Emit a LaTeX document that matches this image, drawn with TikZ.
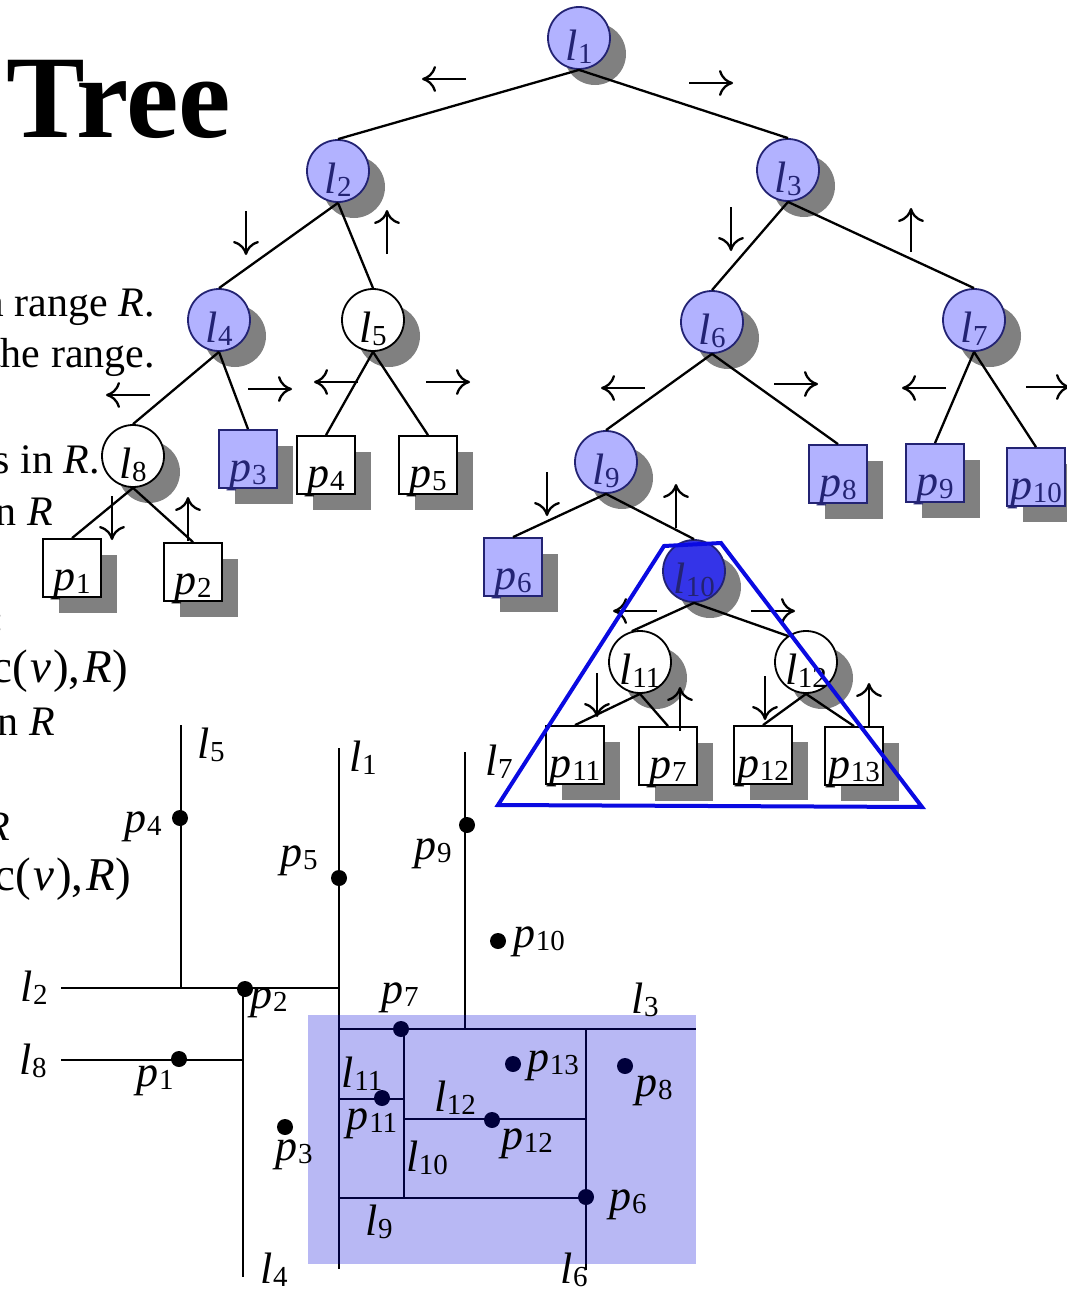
\RequirePackage{fix-cm}
\documentclass[tikz,border=0pt]{standalone}
\usepackage{fontspec}
\setmainfont{Liberation Serif}
\usetikzlibrary{shadows,calc,arrows.meta}
\definecolor{hlfill}{RGB}{178,178,255}
\definecolor{navy}{RGB}{35,35,115}
\definecolor{hldark}{RGB}{52,52,232}
\definecolor{shadowgray}{RGB}{128,128,128}
\definecolor{trapblue}{RGB}{10,10,225}
\definecolor{regionblue}{RGB}{0,0,215}
\newcommand{\lab}[2]{\textit{#1}\kern0.5pt\raisebox{-3pt}{\fontsize{29}{29}\selectfont #2}}
\tikzset{
  every node/.style={font=\fontsize{44}{44}\selectfont},
  shadowed/.style={drop shadow={shadow xshift=16pt,shadow yshift=-16pt,opacity=1,fill=shadowgray}},
  treecirc/.style={circle,draw=black,line width=1.8pt,fill=white,minimum size=62pt,inner sep=0pt,text height=44pt,text depth=0pt,shadowed},
  leafbox/.style={rectangle,draw=black,line width=1.8pt,fill=white,minimum size=58pt,inner sep=0pt,text height=44pt,text depth=0pt,shadowed},
  hl/.style={fill=hlfill,draw=navy,text=navy},
  hldeep/.style={fill=hldark,draw=navy,text=navy},
  edge/.style={line width=2.3pt},
  cut/.style={line width=2.5pt},
  dot/.style={circle,fill=black,minimum size=16pt,inner sep=0pt},
  dirarrow/.style={line width=2.3pt,-{Computer Modern Rightarrow[length=14pt,width=26pt,line width=2.3pt]}},
  larr/.pic={\draw[dirarrow] (22,0) -- (-22,0);},
  rarr/.pic={\draw[dirarrow] (-22,0) -- (22,0);},
  uarr/.pic={\draw[dirarrow] (0,22) -- (0,-22);},
  darr/.pic={\draw[dirarrow] (0,-22) -- (0,22);},
  body/.style={anchor=base east,inner sep=0pt,font=\fontsize{42}{42}\selectfont},
  bodywide/.style={anchor=base east,inner sep=0pt,font=\fontsize{47}{47}\selectfont},
  lbl/.style={inner sep=0pt},
}
\begin{document}
\begin{tikzpicture}[x=1pt,y=-1pt]
\useasboundingbox (0,0) rectangle (1067,1290);
\clip (0,0) rectangle (1067,1290);
% title and cut-off body text
\node[anchor=base west,inner sep=0pt,font=\fontsize{118}{118}\selectfont\bfseries] (title) at (6,137) {Tree};
\node[body] (t1) at (155,316) {a range \textit{R}.};
\node[body] (t2) at (155,367) {the range.};
\node[body] (t3) at (100,473) {ts in \textit{R}.};
\node[body] (t4) at (53,525) {in \textit{R}};
\node[body,font=\fontsize{42}{42}\selectfont\bfseries] (t5) at (5,632) {:};
\node[bodywide] (t6) at (128,682) {c(\kern2pt\textit{v}\kern2pt),\kern3pt\textit{R})};
\node[body] (t7) at (55,735) {in \textit{R}};
\node[body] (t8) at (10,840) {\textit{R}};
\node[bodywide] (t9) at (131,890) {c(\kern2pt\textit{v}\kern2pt),\kern3pt\textit{R})};
% tree nodes
\node[treecirc,hl] (n1) at (579,38) {\lab{l}{1}};
\node[treecirc,hl] (n2) at (338,171) {\lab{l}{2}};
\node[treecirc,hl] (n3) at (788,170) {\lab{l}{3}};
\node[treecirc,hl] (n4) at (219,320) {\lab{l}{4}};
\node[treecirc] (n5) at (373,320) {\lab{l}{5}};
\node[treecirc,hl] (n6) at (712,322) {\lab{l}{6}};
\node[treecirc,hl] (n7) at (974,320) {\lab{l}{7}};
\node[treecirc] (n8) at (133,456) {\lab{l}{8}};
\node[treecirc,hl] (n9) at (606,462) {\lab{l}{9}};
\node[treecirc,hldeep] (n10) at (694,571) {\lab{l}{10}};
\node[treecirc] (n11) at (640,662) {\lab{l}{11}};
\node[treecirc] (n12) at (806,662) {\lab{l}{12}};
\node[leafbox] (q1) at (72,568) {\lab{p}{1}};
\node[leafbox] (q2) at (193,572) {\lab{p}{2}};
\node[leafbox,hl] (q3) at (248,459) {\lab{p}{3}};
\node[leafbox] (q4) at (326,465) {\lab{p}{4}};
\node[leafbox] (q5) at (428,465) {\lab{p}{5}};
\node[leafbox,hl] (q6) at (513,567) {\lab{p}{6}};
\node[leafbox,hl] (q8) at (838,474) {\lab{p}{8}};
\node[leafbox,hl] (q9) at (935,473) {\lab{p}{9}};
\node[leafbox,hl] (q10) at (1036,477) {\lab{p}{10}};
\node[leafbox] (q11) at (575,755) {\lab{p}{11}};
\node[leafbox] (q7) at (668,756) {\lab{p}{7}};
\node[leafbox] (q12) at (763,755) {\lab{p}{12}};
\node[leafbox] (q13) at (854,756) {\lab{p}{13}};
% tree edges
\draw[edge] (n1.south) -- (n2.north);
\draw[edge] (n1.south) -- (n3.north);
\draw[edge] (n2.south) -- (n4.north);
\draw[edge] (n2.south) -- (n5.north);
\draw[edge] (n3.south) -- (n6.north);
\draw[edge] (n3.south) -- (n7.north);
\draw[edge] (n4.south) -- (n8.north);
\draw[edge] (n4.south) -- (q3.north);
\draw[edge] (n5.south) -- (q4.north);
\draw[edge] (n5.south) -- (q5.north);
\draw[edge] (n6.south) -- (n9.north);
\draw[edge] (n6.south) -- (q8.north);
\draw[edge] (n7.south) -- (q9.north);
\draw[edge] (n7.south) -- (q10.north);
\draw[edge] (n8.south) -- (q1.north);
\draw[edge] (n8.south) -- (q2.north);
\draw[edge] (n9.south) -- (q6.north);
\draw[edge] (n9.south) -- (n10.north);
\draw[edge] (n10.south) -- (n11.105);
\draw[edge] (n10.south) -- (n12.125);
\draw[edge] (n11.south) -- (q11.north);
\draw[edge] (n11.south) -- (q7.north);
\draw[edge] (n12.south) -- (q12.north);
\draw[edge] (n12.south) -- (q13.north);
% direction arrows
\pic (a1) at (444,79) {larr};
\pic (a2) at (711,83) {rarr};
\pic (a3) at (246,233) {darr};
\pic (a4) at (387,232) {uarr};
\pic (a5) at (731,229) {darr};
\pic (a6) at (911,230) {uarr};
\pic (a7) at (128,395) {larr};
\pic (a8) at (270,389) {rarr};
\pic (a9) at (336,382) {larr};
\pic (a10) at (448,382) {rarr};
\pic (a11) at (112,518) {darr};
\pic (a12) at (188,519) {uarr};
\pic (a13) at (623,388) {larr};
\pic (a14) at (796,384) {rarr};
\pic (a15) at (924,388) {larr};
\pic (a16) at (1048,387) {rarr};
\pic (a17) at (547,494) {darr};
\pic (a18) at (676,506) {uarr};
\pic (a19) at (635,611) {larr};
\pic (a20) at (773,611) {rarr};
\pic (a21) at (597,695) {darr};
\pic (a22) at (680,709) {uarr};
\pic (a23) at (765,698) {darr};
\pic (a24) at (869,705) {uarr};
% partition lines
\draw[cut] (181,725) -- (181,988);
\draw[cut] (339,748) -- (339,1269);
\draw[cut] (465,752) -- (465,1029);
\draw[cut] (61,988) -- (339,988);
\draw[cut] (243,988) -- (243,1277);
\draw[cut] (61,1060) -- (243,1060);
\draw[cut] (339,1029) -- (696,1029);
\draw[cut] (404,1029) -- (404,1198);
\draw[cut] (339,1099) -- (404,1099);
\draw[cut] (404,1119) -- (586,1119);
\draw[cut] (586,1029) -- (586,1270);
\draw[cut] (339,1198) -- (586,1198);
% points
\node[dot] (d4) at (180,818) {};
\node[dot] (d5) at (339,878) {};
\node[dot] (d9) at (467,825) {};
\node[dot] (d10) at (498,941) {};
\node[dot] (d2) at (245,989) {};
\node[dot] (d1) at (179,1059) {};
\node[dot] (d3) at (285,1127) {};
\node[dot] (d7) at (401,1029) {};
\node[dot] (d11) at (382,1098) {};
\node[dot] (d12) at (492,1120) {};
\node[dot] (d13) at (513,1064) {};
\node[dot] (d8) at (625,1066) {};
\node[dot] (d6) at (586,1197) {};
% query region
\coordinate (r1) at (308,1015);
\coordinate (r2) at (696,1264);
\fill[regionblue,opacity=0.28] (r1) rectangle (r2);
% partition labels
\node[lbl] (Ll5) at (211,745) {\lab{l}{5}};
\node[lbl] (Ll1) at (363,758) {\lab{l}{1}};
\node[lbl] (Ll7) at (499,762) {\lab{l}{7}};
\node[lbl] (Lp4) at (143,827) {\lab{p}{4}};
\node[lbl] (Lp5) at (299,861) {\lab{p}{5}};
\node[lbl] (Lp9) at (433,854) {\lab{p}{9}};
\node[lbl] (Lp10) at (539,942) {\lab{p}{10}};
\node[lbl] (Ll2) at (34,988) {\lab{l}{2}};
\node[lbl] (Lp2) at (269,1003) {\lab{p}{2}};
\node[lbl] (Ll8) at (33,1061) {\lab{l}{8}};
\node[lbl] (Lp1) at (155,1081) {\lab{p}{1}};
\node[lbl] (Lp7) at (400,998) {\lab{p}{7}};
\node[lbl] (Ll3) at (645,1000) {\lab{l}{3}};
\node[lbl] (Ll11) at (362,1074) {\lab{l}{11}};
\node[lbl] (Lp11) at (372,1124) {\lab{p}{11}};
\node[lbl] (Ll12) at (455,1098) {\lab{l}{12}};
\node[lbl] (Lp12) at (527,1144) {\lab{p}{12}};
\node[lbl] (Ll10) at (427,1158) {\lab{l}{10}};
\node[lbl] (Lp13) at (553,1066) {\lab{p}{13}};
\node[lbl] (Lp8) at (654,1091) {\lab{p}{8}};
\node[lbl] (Ll9) at (379,1222) {\lab{l}{9}};
\node[lbl] (Lp6) at (628,1205) {\lab{p}{6}};
\node[lbl] (Ll6) at (574,1270) {\lab{l}{6}};
\node[lbl] (Ll4) at (274,1270) {\lab{l}{4}};
\node[lbl] (Lp3) at (294,1155) {\lab{p}{3}};
% subtree highlight
\coordinate (k1) at (664,546);
\coordinate (k2) at (721,543);
\coordinate (k3) at (922,807);
\coordinate (k4) at (498,805);
\draw[trapblue,line width=4pt] (k1) -- (k2) -- (k3) -- (k4) -- cycle;
\end{tikzpicture}
\end{document}
